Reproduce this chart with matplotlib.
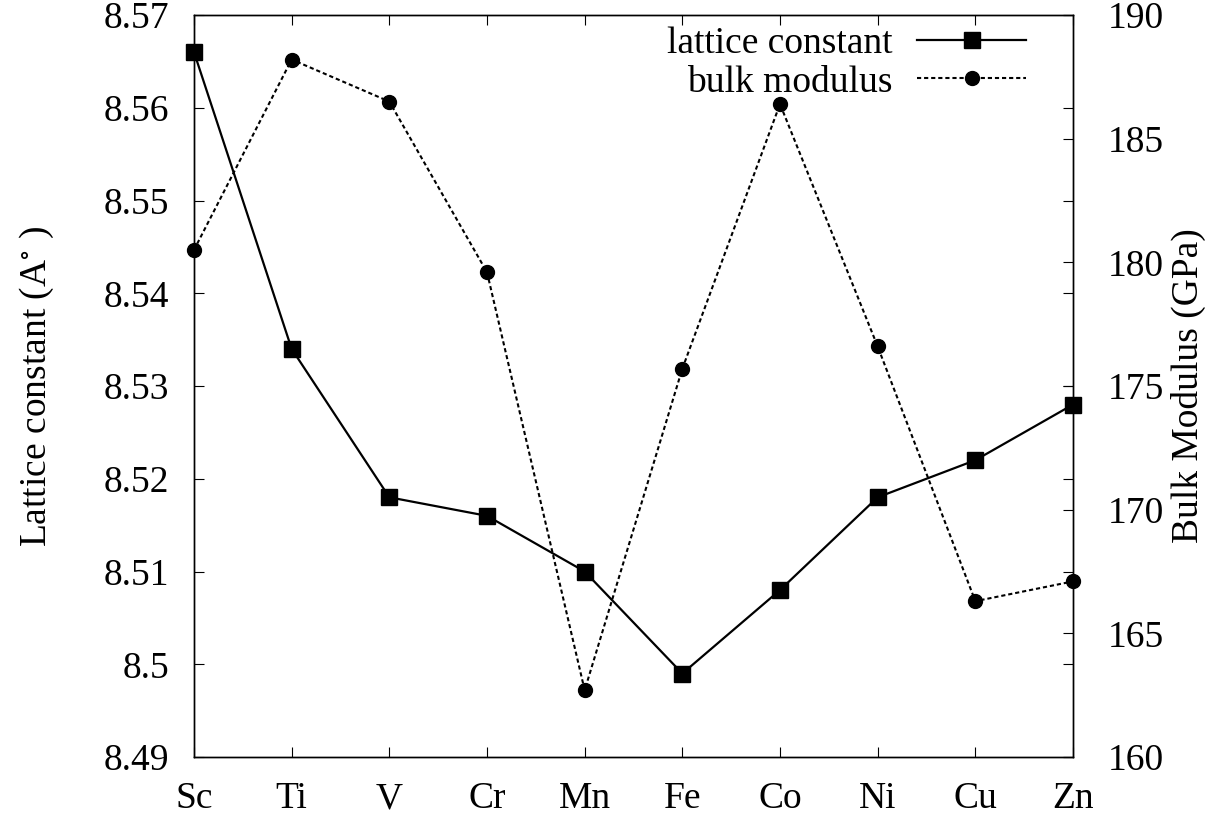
import matplotlib
matplotlib.use("Agg")
import matplotlib.pyplot as plt

plt.rcParams['font.family'] = ['Liberation Serif', 'DejaVu Serif']
plt.rcParams['mathtext.fontset'] = 'stix'
plt.rcParams['font.size'] = 27

# 3d transition metal substitutions
elements = ['Sc', 'Ti', 'V', 'Cr', 'Mn', 'Fe', 'Co', 'Ni', 'Cu', 'Zn']
lattice = [8.566, 8.534, 8.518, 8.516, 8.510, 8.499, 8.508, 8.518, 8.522, 8.528]
bulk = [180.5, 188.2, 186.5, 179.6, 162.7, 175.7, 186.4, 176.6, 166.3, 167.1]

lat_ticks = [8.49, 8.50, 8.51, 8.52, 8.53, 8.54, 8.55, 8.56, 8.57]
lat_labels = ['8.49', '8.5', '8.51', '8.52', '8.53', '8.54', '8.55', '8.56', '8.57']
bulk_ticks = [160, 165, 170, 175, 180, 185, 190]

fig = plt.figure(figsize=(12.1, 8.18), dpi=100)
ax = fig.add_axes([194/1210, 1 - 757/818, (1073 - 194)/1210, (757 - 15)/818])
ax2 = ax.twinx()

x = list(range(len(elements)))
l1, = ax.plot(x, lattice, color='black', lw=1.6, marker='s', ms=11,
              label='lattice constant', clip_on=False, zorder=3)
l2, = ax2.plot(x, bulk, color='black', lw=1.5, ls=(0, (2, 1.4)), marker='o',
               ms=10, label='bulk modulus', clip_on=False, zorder=3)

ax.set_xlim(0, 9)
ax.set_ylim(8.49, 8.57)
ax2.set_ylim(160, 190)
ax.set_xticks(x)
ax.set_xticklabels(elements)
ax.set_yticks(lat_ticks)
ax.set_yticklabels(lat_labels)
ax2.set_yticks(bulk_ticks)

ax.tick_params(axis='x', direction='in', top=True, length=7, width=0.8, pad=18)
ax.tick_params(axis='y', direction='in', right=True, length=7, width=0.8, pad=18)
ax2.tick_params(axis='y', direction='in', length=7, width=0.8, pad=25)

for a in (ax, ax2):
    for s in a.spines.values():
        s.set_linewidth(1.0)

ax.set_ylabel(r'Lattice constant (A$^{\circ}$ )', labelpad=34)
ax2.set_ylabel('Bulk Modulus (GPa)', labelpad=5)

leg = ax2.legend(handles=[l1, l2], loc='upper right', markerfirst=False,
                 frameon=False, bbox_to_anchor=(0.9465, 0.984), borderpad=0,
                 borderaxespad=0, handlelength=2.9, handletextpad=0.65,
                 labelspacing=0.1)

fig.savefig('out.png', dpi=100)
